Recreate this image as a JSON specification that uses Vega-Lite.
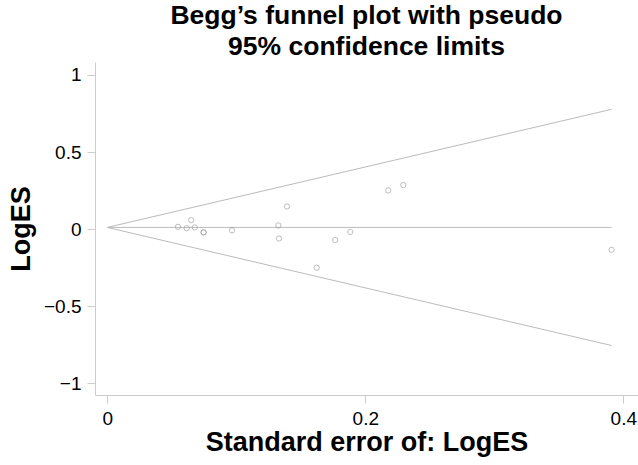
{
  "$schema": "https://vega.github.io/schema/vega-lite/v6.json",
  "autosize": "none",
  "width": 543,
  "height": 333,
  "padding": {"left": 95, "top": 62, "right": 0, "bottom": 70},
  "background": "white",
  "config": {
    "font": "Liberation Sans",
    "view": {"stroke": null},
    "axis": {"grid": false, "domainColor": "#cccccc", "tickColor": "#cccccc", "tickSize": 8, "labelColor": "#000000", "labelFontSize": 19, "labelFont": "Liberation Sans", "titleFont": "Liberation Sans", "titleFontSize": 27, "titleFontWeight": "bold", "titleColor": "#000000"}
  },
  "title": {
    "text": ["Begg’s funnel plot with pseudo", "95% confidence limits"],
    "font": "Liberation Sans",
    "fontSize": 26.5,
    "fontWeight": "bold",
    "color": "#000000",
    "anchor": "middle",
    "offset": 2,
    "lineHeight": 31
  },
  "datasets": {
    "studies": [
      {"se": 0.0548, "logES": 0.015},
      {"se": 0.0616, "logES": 0.006},
      {"se": 0.0651, "logES": 0.058},
      {"se": 0.0678, "logES": 0.011},
      {"se": 0.0747, "logES": -0.021},
      {"se": 0.0747, "logES": -0.021},
      {"se": 0.0967, "logES": -0.008},
      {"se": 0.1326, "logES": 0.024},
      {"se": 0.1331, "logES": -0.061},
      {"se": 0.1393, "logES": 0.147},
      {"se": 0.1623, "logES": -0.250},
      {"se": 0.1767, "logES": -0.071},
      {"se": 0.1884, "logES": -0.018},
      {"se": 0.2178, "logES": 0.251},
      {"se": 0.2295, "logES": 0.286},
      {"se": 0.3909, "logES": -0.134}
    ],
    "funnel": [
      {"series": "upper", "se": 0, "logES": 0.011},
      {"series": "upper", "se": 0.3909, "logES": 0.777},
      {"series": "lower", "se": 0, "logES": 0.011},
      {"series": "lower", "se": 0.3909, "logES": -0.755},
      {"series": "pooled", "se": 0, "logES": 0.011},
      {"series": "pooled", "se": 0.3909, "logES": 0.011}
    ]
  },
  "encoding": {
    "x": {"field": "se", "type": "quantitative", "scale": {"domain": [-0.0095, 0.4114], "nice": false, "zero": false}, "axis": {"values": [0, 0.2, 0.4], "format": ".1~f", "title": "Standard error of: LogES", "labelPadding": 6, "titlePadding": 1}},
    "y": {"field": "logES", "type": "quantitative", "scale": {"domain": [-1.076, 1.084], "nice": false, "zero": false}, "axis": {"values": [-1, -0.5, 0, 0.5, 1], "format": ".1~f", "title": "LogES", "labelPadding": 6, "titlePadding": 8}}
  },
  "layer": [
    {
      "data": {"name": "funnel"},
      "mark": {"type": "line", "color": "#bbbbbb", "strokeWidth": 1},
      "encoding": {"detail": {"field": "series"}}
    },
    {
      "data": {"name": "studies"},
      "mark": {"type": "point", "shape": "circle", "filled": false, "color": "#999999", "strokeWidth": 0.8, "size": 28, "opacity": 0.8}
    }
  ]
}
